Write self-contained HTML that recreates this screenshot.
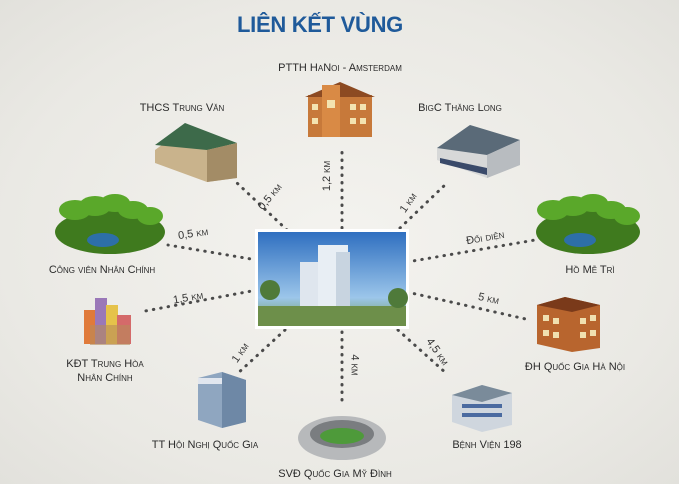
<!DOCTYPE html>
<html><head><meta charset="utf-8"><style>
html,body{margin:0;padding:0}
body{width:679px;height:484px;overflow:hidden;background:radial-gradient(ellipse at center,#f4f3ef 0%,#eae9e4 70%,#e2e1dc 100%);font-family:"Liberation Sans",sans-serif;position:relative}
.t{position:absolute;font-size:11px;color:#2b2b2b;font-variant:small-caps;white-space:nowrap;transform:translateX(-50%);text-align:center;line-height:14px}
.d{position:absolute;font-size:11px;color:#333;font-variant:small-caps;white-space:nowrap}
</style></head><body>
<svg width="679" height="484" style="position:absolute;left:0;top:0">
<defs>
<linearGradient id="sky" x1="0" y1="0" x2="0" y2="1"><stop offset="0" stop-color="#2f6fc0"/><stop offset="0.7" stop-color="#9cc6ea"/><stop offset="1" stop-color="#6f9a55"/></linearGradient>
</defs>
<g stroke="#4a4a4a" stroke-width="3" stroke-linecap="round" stroke-dasharray="0.5 7" fill="none">
<line x1="342" y1="228" x2="342" y2="148"/>
<line x1="287" y1="230" x2="237" y2="183"/>
<line x1="400" y1="228" x2="447" y2="183"/>
<line x1="257" y1="260" x2="168" y2="245"/>
<line x1="407" y1="262" x2="535" y2="240"/>
<line x1="257" y1="290" x2="140" y2="312"/>
<line x1="407" y1="292" x2="530" y2="320"/>
<line x1="285" y1="330" x2="237" y2="374"/>
<line x1="342" y1="332" x2="342" y2="405"/>
<line x1="398" y1="330" x2="447" y2="374"/>
</g>
<!-- center image -->
<rect x="255" y="229" width="154" height="100" fill="#fff"/>
<rect x="258" y="232" width="148" height="94" fill="url(#sky)"/>
<rect x="300" y="262" width="20" height="50" fill="#dfe6ee"/>
<rect x="318" y="245" width="30" height="68" fill="#e8eef4"/>
<rect x="336" y="252" width="14" height="60" fill="#c8d4e0"/>
<rect x="258" y="306" width="148" height="20" fill="#6d8f4a"/>
<circle cx="270" cy="290" r="10" fill="#4f7a3a"/><circle cx="398" cy="298" r="10" fill="#4f7a3a"/>
<!-- PTTH -->
<rect x="308" y="95" width="64" height="42" fill="#c7793a"/>
<polygon points="305,97 340,82 375,97" fill="#8c4a22"/>
<rect x="322" y="85" width="18" height="52" fill="#d98a45"/>
<g fill="#f3e3b0"><rect x="312" y="104" width="6" height="6"/><rect x="312" y="118" width="6" height="6"/><rect x="350" y="104" width="6" height="6"/><rect x="360" y="104" width="6" height="6"/><rect x="350" y="118" width="6" height="6"/><rect x="360" y="118" width="6" height="6"/><rect x="327" y="100" width="8" height="8"/></g>
<!-- THCS -->
<polygon points="155,150 185,128 237,148 237,178 207,182 155,163" fill="#c9b38c"/>
<polygon points="155,145 185,123 237,143 207,150" fill="#3d6a4a"/>
<polygon points="207,150 237,143 237,178 207,182" fill="#a38c66"/>
<!-- BigC -->
<polygon points="437,148 470,125 520,140 520,165 487,178 437,160" fill="#d7d8d8"/>
<polygon points="437,148 470,125 520,140 487,155" fill="#5a6a78"/>
<polygon points="487,155 520,140 520,165 487,178" fill="#b8bcc0"/>
<polygon points="440,158 487,168 487,175 440,163" fill="#3a4a6a"/>
<!-- parks -->
<g>
<ellipse cx="110" cy="232" rx="55" ry="22" fill="#3f7a1e"/>
<ellipse cx="103" cy="240" rx="16" ry="7" fill="#2d6fa8"/>
<g fill="#5aa82a"><ellipse cx="75" cy="210" rx="16" ry="10"/><ellipse cx="95" cy="206" rx="16" ry="10"/><ellipse cx="115" cy="203" rx="15" ry="9"/><ellipse cx="133" cy="210" rx="15" ry="9"/><ellipse cx="150" cy="216" rx="13" ry="9"/></g>
</g>
<g>
<ellipse cx="588" cy="232" rx="52" ry="22" fill="#3f7a1e"/>
<ellipse cx="580" cy="240" rx="16" ry="7" fill="#2d6fa8"/>
<g fill="#5aa82a"><ellipse cx="553" cy="210" rx="16" ry="10"/><ellipse cx="573" cy="206" rx="16" ry="10"/><ellipse cx="593" cy="203" rx="15" ry="9"/><ellipse cx="611" cy="210" rx="15" ry="9"/><ellipse cx="627" cy="216" rx="13" ry="9"/></g>
</g>
<!-- KDT -->
<rect x="84" y="310" width="12" height="34" fill="#e07a3a"/>
<rect x="95" y="298" width="12" height="46" fill="#9a78b8"/>
<rect x="106" y="305" width="12" height="39" fill="#e5c24a"/>
<rect x="117" y="315" width="14" height="29" fill="#d46a6a"/>
<rect x="90" y="325" width="40" height="20" fill="#b88a5a" opacity="0.6"/>
<!-- DH -->
<polygon points="537,305 565,297 600,305 600,348 572,352 537,344" fill="#b8652e"/>
<polygon points="537,305 565,297 600,305 572,312" fill="#7a3a1a"/>
<g fill="#f0e0b0"><rect x="543" y="315" width="6" height="6"/><rect x="553" y="318" width="6" height="6"/><rect x="543" y="330" width="6" height="6"/><rect x="553" y="332" width="6" height="6"/><rect x="580" y="318" width="6" height="6"/><rect x="590" y="315" width="6" height="6"/><rect x="580" y="332" width="6" height="6"/><rect x="590" y="330" width="6" height="6"/></g>
<!-- TT -->
<polygon points="198,378 222,372 246,380 246,422 222,428 198,420" fill="#8fa6c0"/>
<polygon points="222,372 246,380 246,422 222,428" fill="#6e88a6"/>
<rect x="198" y="378" width="24" height="6" fill="#e1e6ee"/>
<!-- Stadium -->
<ellipse cx="342" cy="438" rx="44" ry="22" fill="#b7b9bb"/>
<ellipse cx="342" cy="434" rx="32" ry="14" fill="#7a7d80"/>
<ellipse cx="342" cy="436" rx="22" ry="8" fill="#4e9a3a"/>
<!-- BV -->
<polygon points="452,395 482,385 512,393 512,425 482,432 452,422" fill="#cfd6de"/>
<polygon points="452,395 482,385 512,393 482,402" fill="#7a8b9a"/>
<rect x="462" y="404" width="40" height="4" fill="#4a6aa0"/>
<rect x="462" y="413" width="40" height="4" fill="#4a6aa0"/>
</svg>
<div style="position:absolute;left:0;width:640px;top:12px;text-align:center;font-weight:bold;font-size:22px;color:#1f5a9a;letter-spacing:-0.3px">LIÊN KẾT VÙNG</div>
<div class="t" style="left:340px;top:61px">PTTH HaNoi - Amsterdam</div>
<div class="t" style="left:182px;top:101px">THCS Trung Văn</div>
<div class="t" style="left:460px;top:101px">BigC Thăng Long</div>
<div class="t" style="left:102px;top:263px">Công viên Nhân Chính</div>
<div class="t" style="left:590px;top:263px">Hồ Mễ Trì</div>
<div class="t" style="left:105px;top:357px">KĐT Trung Hòa<br>Nhân Chính</div>
<div class="t" style="left:575px;top:360px">ĐH Quốc Gia Hà Nội</div>
<div class="t" style="left:205px;top:438px">TT Hội Nghị Quốc Gia</div>
<div class="t" style="left:487px;top:438px">Bệnh Viện 198</div>
<div class="t" style="left:335px;top:467px">SVĐ Quốc Gia Mỹ Đình</div>
<div class="d" style="left:312px;top:170px;transform:rotate(-90deg)">1,2 km</div>
<div class="d" style="left:255px;top:191px;transform:rotate(-50deg)">0,5 km</div>
<div class="d" style="left:398px;top:197px;transform:rotate(-55deg)">1 km</div>
<div class="d" style="left:178px;top:228px;transform:rotate(-8deg)">0,5 km</div>
<div class="d" style="left:466px;top:232px;transform:rotate(-10deg)">Đối diện</div>
<div class="d" style="left:173px;top:292px;transform:rotate(-10deg)">1,5 km</div>
<div class="d" style="left:478px;top:293px;transform:rotate(12deg)">5 km</div>
<div class="d" style="left:230px;top:347px;transform:rotate(-55deg)">1 km</div>
<div class="d" style="left:344px;top:359px;transform:rotate(90deg)">4 km</div>
<div class="d" style="left:422px;top:346px;transform:rotate(55deg)">4,5 km</div>
</body></html>
